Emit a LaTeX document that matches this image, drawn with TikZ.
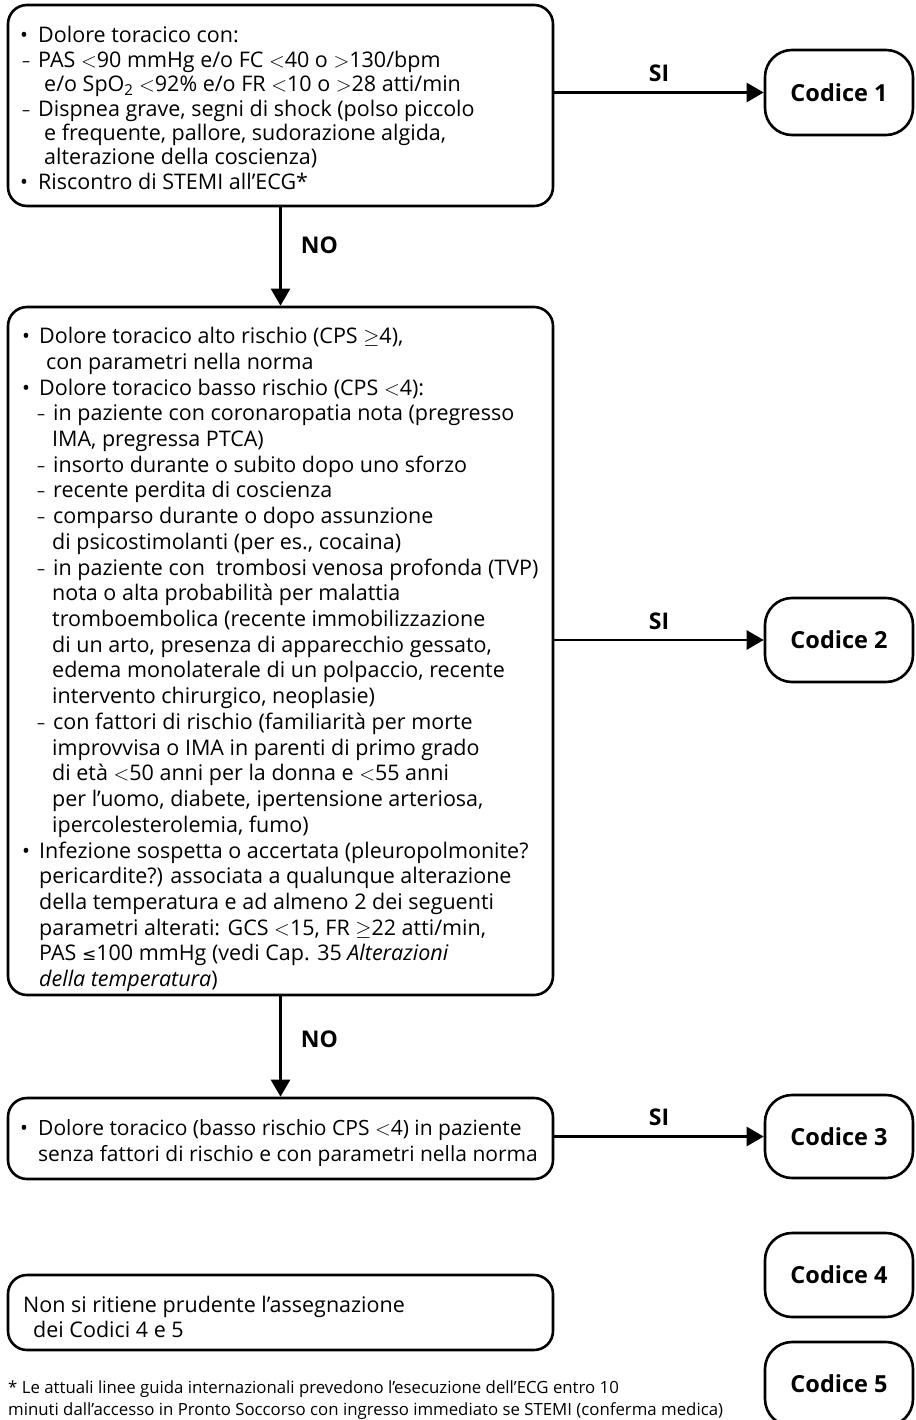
\documentclass[tikz,border=0pt]{standalone}
\usepackage{fontspec}
\setmainfont{Open Sans}
\newfontfamily\symfont{DejaVu Sans}
\usetikzlibrary{arrows.meta}

% list marks and indented lines: offset of the mark, gap to the text
\newcommand\bulletmark{\raisebox{0pt}{\fontsize{21}{21}\selectfont •}}
\newcommand\dashmark{\raisebox{1pt}{\fontsize{16}{16}\selectfont –}}
\newcommand\bitem[3]{\hspace*{#1pt}\makebox[#2pt][l]{\bulletmark}#3}
\newcommand\ditem[3]{\hspace*{#1pt}\makebox[#2pt][l]{\dashmark}#3}
\newcommand\cont[2]{\hspace*{#1pt}#2}

\tikzset{
  every node/.style={inner sep=0pt},
  frame/.style={draw, line width=2.6pt, rounded corners=19pt, minimum width=545pt},
  txt/.style={anchor=west, align=left, font=\fontsize{21.5}{24.4}\selectfont},
  codbox/.style={draw, line width=2.6pt, rounded corners=27pt,
    minimum width=148pt, minimum height=84pt, font=\fontsize{23.5}{26}\selectfont\bfseries},
  arr/.style={line width=2.6pt, -{Triangle[length=17pt,width=19pt]}},
  lbl/.style={font=\fontsize{23}{26}\selectfont\bfseries},
}

\begin{document}
\begin{tikzpicture}[x=1pt,y=-1pt]
\useasboundingbox (0,0) rectangle (915,1420);
\clip (0,0) rectangle (915,1420);

% decision boxes on the left
\node[frame, minimum height=201pt] (b1) at (280.5,105.5) {};
\node[txt] (t1) at (20,108) {%
\bitem{0}{18}{Dolore toracico con:}\\
\ditem{2}{16}{PAS $<$90 mmHg e/o FC $<$40 o $>$130/bpm}\\
\cont{24}{e/o SpO\textsubscript{2} $<$92\% e/o FR $<$10 o $>$28 atti/min}\\
\ditem{2}{16}{Dispnea grave, segni di shock (polso piccolo}\\
\cont{24}{e frequente, pallore, sudorazione algida,}\\
\cont{24}{alterazione della coscienza)}\\
\bitem{0}{18}{Riscontro di STEMI all’ECG*}};

\node[frame, minimum height=688pt] (b2) at (280.5,651) {};
\node[txt, font=\fontsize{21.5}{25.72}\selectfont] (t2) at (20,659.5) {%
\bitem{2}{17}{Dolore toracico alto rischio (CPS $\geq$4),}\\
\cont{26}{con parametri nella norma}\\
\bitem{2}{17}{Dolore toracico basso rischio (CPS $<$4):}\\
\ditem{17}{16}{in paziente con coronaropatia nota (pregresso}\\
\cont{32}{IMA, pregressa PTCA)}\\
\ditem{17}{16}{insorto durante o subito dopo uno sforzo}\\
\ditem{17}{16}{recente perdita di coscienza}\\
\ditem{17}{16}{comparso durante o dopo assunzione}\\
\cont{32}{di psicostimolanti (per es., cocaina)}\\
\ditem{17}{16}{in paziente con\ \ trombosi venosa profonda (TVP)}\\
\cont{32}{nota o alta probabilità per malattia}\\
\cont{32}{tromboembolica (recente immobilizzazione}\\
\cont{32}{di un arto, presenza di apparecchio gessato,}\\
\cont{32}{edema monolaterale di un polpaccio, recente}\\
\cont{32}{intervento chirurgico, neoplasie)}\\
\ditem{17}{16}{con fattori di rischio (familiarità per morte}\\
\cont{32}{improvvisa o IMA in parenti di primo grado}\\
\cont{32}{di età $<$50 anni per la donna e $<$55 anni}\\
\cont{32}{per l’uomo, diabete, ipertensione arteriosa,}\\
\cont{32}{ipercolesterolemia, fumo)}\\
\bitem{2}{17}{Infezione sospetta o accertata (pleuropolmonite?}\\
\cont{19}{pericardite?) associata a qualunque alterazione}\\
\cont{19}{della temperatura e ad almeno 2 dei seguenti}\\
\cont{19}{parametri alterati: GCS $<$15, FR $\geq$22 atti/min,}\\
\cont{19}{PAS {\symfont\fontsize{17}{17}\selectfont ≤}100 mmHg (vedi Cap. 35 \textit{Alterazioni}}\\
\cont{19}{\textit{della temperatura})}};

\node[frame, minimum height=81pt] (b3) at (280.5,1138.5) {};
\node[txt, font=\fontsize{21}{26}\selectfont] (t3) at (20,1143) {%
\bitem{0}{18}{Dolore toracico (basso rischio CPS $<$4) in paziente}\\
\cont{18}{senza fattori di rischio e con parametri nella norma}};

\node[frame, minimum height=75pt] (b4) at (280.5,1312.5) {};
\node[txt, font=\fontsize{21.5}{25}\selectfont] (t4) at (20,1317) {%
\cont{3}{Non si ritiene prudente l’assegnazione}\\
\cont{13}{dei Codici 4 e 5}};

% triage codes on the right
\node[codbox, minimum height=85pt] (c1) at (839,92.5) {Codice 1};
\node[codbox] (c2) at (839,640) {Codice 2};
\node[codbox, minimum height=83pt] (c3) at (839,1136.5) {Codice 3};
\node[codbox] (c4) at (839,1275) {Codice 4};
\node[codbox] (c5) at (839,1384) {Codice 5};

% connectors
\draw[arr] (c1.west -| b1.east) -- node[lbl, above=9pt] (si1) {SI} (c1.west);
\draw[arr] (c2.west -| b2.east) -- node[lbl, above=9pt] (si2) {SI} (c2.west);
\draw[arr] (c3.west -| b3.east) -- node[lbl, above=9pt] (si3) {SI} (c3.west);
\draw[arr] (b1.south) -- node[lbl, pos=0.39, right=19pt] (no1) {NO} (b2.north);
\draw[arr] (b2.south) -- node[lbl, pos=0.43, right=19pt] (no2) {NO} (b3.north);

% footnote
\node[anchor=north west, align=left, font=\fontsize{16.8}{22}\selectfont] (note) at (8,1381) {%
* Le attuali linee guida internazionali prevedono l’esecuzione dell’ECG entro 10\\
minuti dall’accesso in Pronto Soccorso con ingresso immediato se STEMI (conferma medica)};
\end{tikzpicture}
\end{document}
